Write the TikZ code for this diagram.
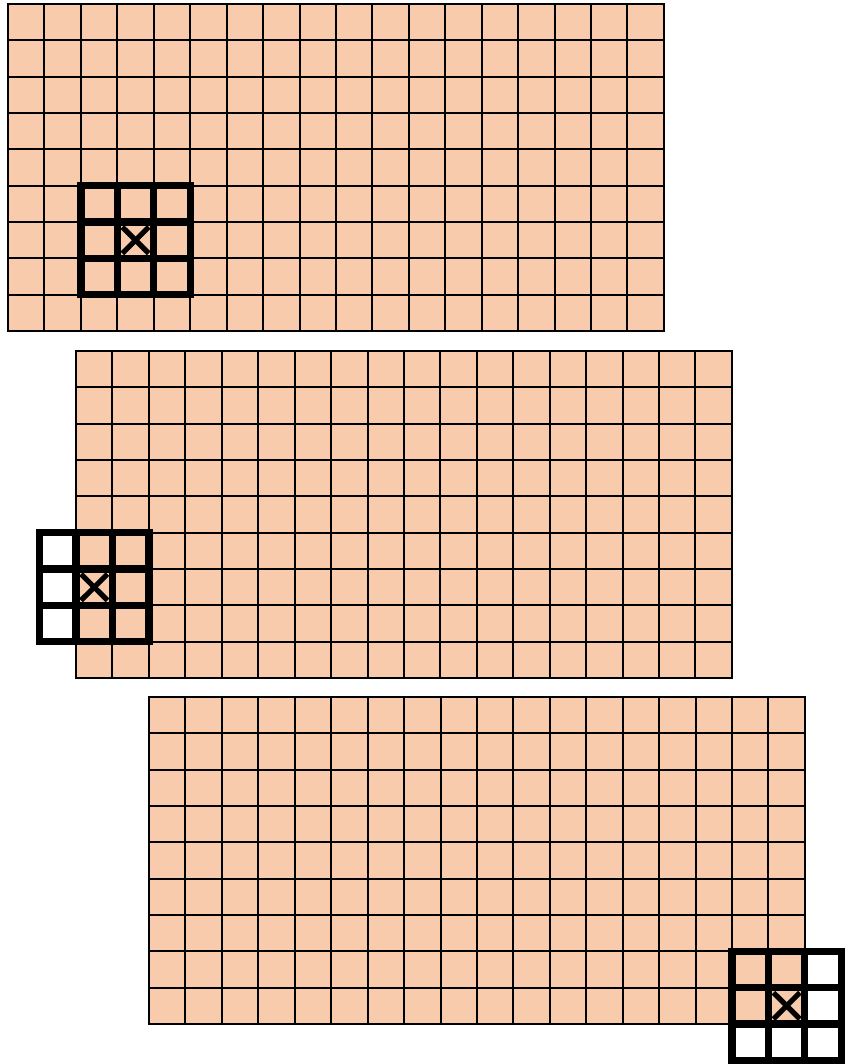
\documentclass[tikz,border=0pt]{standalone}
\definecolor{peach}{RGB}{248,203,173}
\tikzset{
  cellgrid/.style={draw=black, fill=peach, line width=1pt},
  kernelbox/.style={draw=black, line width=3.6pt, line cap=rect},
  kernelcross/.style={draw=black, line width=2.6pt},
}
\newcommand{\featgrid}[2]{%
  \foreach \i in {0,...,17}{\foreach \j in {0,...,8}{%
    \path[cellgrid] ({#1+\i*36.44},{#2+\j*36.33}) rectangle ++(36.44,36.33);}}}
\newcommand{\kernelat}[2]{%
  \foreach \i in {0,...,3}{\draw[kernelbox] ({#1+\i*36.44},#2) -- ++(0,109);}
  \foreach \j in {0,...,3}{\draw[kernelbox] (#1,{#2+\j*36.33}) -- ++(109.3,0);}
  \draw[kernelcross] ({#1+36.44+5},{#2+36.33+5}) -- ({#1+2*36.44-5},{#2+2*36.33-5});
  \draw[kernelcross] ({#1+2*36.44-5},{#2+36.33+5}) -- ({#1+36.44+5},{#2+2*36.33-5});}
\begin{document}
\begin{tikzpicture}[x=0.5pt,y=-0.5pt]
\useasboundingbox (0,0) rectangle (846,1064);
\featgrid{8}{4}
\featgrid{76}{351}
\featgrid{149}{697}
\kernelat{80.9}{185.7}
\kernelat{39.6}{532.7}
\kernelat{732}{951.3}
\end{tikzpicture}
\end{document}
